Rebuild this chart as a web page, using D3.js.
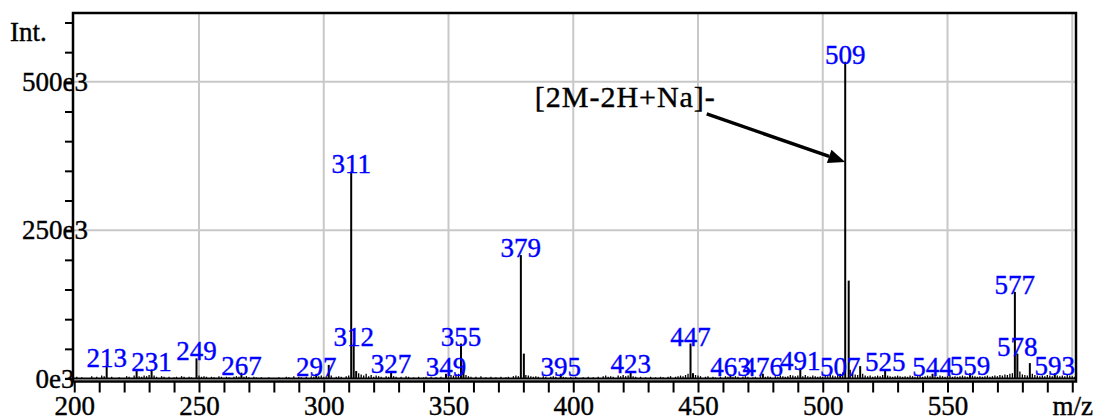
<!DOCTYPE html>
<html>
<head>
<meta charset="utf-8">
<script src="https://cdn.jsdelivr.net/npm/d3@7"></script>
<style>
  body { margin: 0; background: #fff; }
  svg { display: block; }
</style>
</head>
<body>
<div id="chart"></div>
<script>
// labelled peaks (m/z, intensity in e3)
const labelMz  = [213, 231, 249, 267, 297, 311, 312, 327, 349, 355, 379, 395, 423, 447, 463, 476, 491, 507, 509, 525, 544, 559, 577, 578, 593];
const labelInt = [22, 15.5, 34, 10, 8, 349, 59, 12.5, 8, 59, 208, 8, 12, 59, 7, 8, 18, 8, 534, 16, 8, 9, 146, 42, 9];

// other visible peaks without a label
const otherMz  = [225, 302, 313, 356, 380.2, 448, 510.4, 515, 583];
const otherInt = [12.6, 23, 12.6, 23, 42, 9, 165, 21, 26];

// baseline noise
const noiseMz = [201, 203, 207, 209, 211, 212, 215, 218, 221, 222, 224, 226, 227, 228, 229, 230, 232, 233, 235, 236, 238, 240, 241, 243, 244, 246, 247,
  250, 251, 252, 253, 255, 256, 258, 259, 261, 262, 264, 265, 266, 268, 269, 270, 272, 273, 275, 278, 282, 285, 286, 288, 290, 291, 293, 295, 296, 298, 299,
  300, 301, 303, 305, 306, 307, 309, 310, 314, 315, 316, 317, 318, 319, 320, 321, 322, 323, 325, 326, 328, 329, 331, 333, 334, 336, 338, 340, 341, 343, 345, 347,
  350, 351, 352, 353, 354, 357, 358, 359, 361, 363, 365, 367, 369, 371, 373, 374, 376, 377, 378, 381, 382, 383, 384, 385, 386, 388, 389, 391, 392, 393, 396, 397, 399,
  401, 404, 406, 408, 410, 412, 413, 414, 415, 416, 418, 419, 420, 421, 422, 424, 425, 427, 429, 431, 433, 435, 436, 438, 439, 441, 442, 443, 444, 445, 446,
  449, 450, 451, 453, 454, 456, 457, 459, 461, 462, 464, 465, 466, 468, 469, 470, 472, 473, 475, 477, 478, 479, 481, 482, 483, 484, 485, 486, 487, 488, 489, 490,
  492, 493, 494, 495, 496, 497, 498, 499, 500, 501, 502, 503, 504, 505, 506, 508, 511, 512, 513, 514, 516, 517, 518, 519, 520, 521, 522, 523, 524,
  526, 527, 528, 529, 530, 531, 532, 533, 534, 535, 536, 537, 538, 539, 540, 541, 542, 543, 545, 546, 547, 548, 549, 550, 551, 552, 553, 554, 555, 556, 557, 558,
  560, 561, 562, 563, 564, 565, 566, 567, 568, 569, 570, 571, 572, 573, 574, 575, 576, 579, 580, 581, 582, 584, 585, 586, 587, 588, 589, 590, 591, 592,
  594, 595, 596, 597, 598, 599, 600, 601];
const noiseInt = [3, 2, 4, 3, 5, 4, 3, 2, 4, 3, 5, 4, 3, 5, 4, 6, 5, 3, 4, 3, 3, 2, 3, 4, 3, 3, 2,
  5, 3, 4, 3, 3, 2, 4, 3, 3, 2, 3, 4, 3, 3, 4, 2, 3, 2, 2, 2, 2, 3, 2, 4, 3, 2, 3, 4, 3, 4, 5,
  3, 4, 5, 3, 4, 3, 4, 5, 9, 7, 5, 8, 4, 6, 3, 5, 4, 3, 4, 3, 4, 3, 3, 4, 3, 2, 3, 2, 3, 3, 2, 3,
  4, 6, 5, 7, 8, 6, 4, 3, 3, 4, 2, 3, 2, 3, 2, 3, 4, 5, 4, 6, 5, 4, 3, 4, 3, 4, 3, 3, 4, 3, 3, 2, 3,
  3, 2, 3, 2, 3, 4, 5, 3, 4, 3, 5, 4, 6, 4, 5, 4, 3, 3, 2, 3, 2, 3, 2, 3, 4, 3, 4, 5, 4, 6, 8,
  6, 5, 4, 3, 4, 3, 2, 3, 4, 3, 3, 4, 3, 3, 4, 3, 2, 3, 4, 3, 4, 3, 4, 3, 5, 4, 3, 4, 6, 5, 4, 5,
  4, 6, 4, 3, 5, 4, 3, 4, 3, 5, 4, 6, 5, 4, 7, 10, 15, 9, 7, 6, 8, 5, 4, 5, 3, 4, 5, 4, 6,
  5, 4, 3, 4, 5, 4, 3, 4, 3, 5, 4, 3, 4, 5, 3, 4, 5, 4, 4, 3, 5, 4, 3, 4, 5, 3, 4, 3, 4, 5, 4, 3,
  5, 4, 3, 4, 3, 4, 5, 3, 4, 5, 4, 6, 5, 7, 6, 8, 9, 12, 7, 6, 5, 8, 6, 5, 4, 5, 4, 6, 5, 4,
  5, 4, 5, 4, 6, 5, 4, 3];

// x tick values / y tick values
const xTicks = d3.range(200, 601, 10);
const yTicks = d3.range(0, 600001, 50000);

// annotation: [2M-2H+Na]- pointing at 509
const annText = '[2M-2H+Na]-';
const annTextAt = [384.6, 458000];
const annFrom = [453.5, 446000];
const annTo = [509, 365000];

const width = 1096, height = 419;
const mLeft = 73, mRight = 1076, mTop = 13, mBottom = 381.5;
const font = '"Liberation Serif", "Times New Roman", Times, serif';

const x = d3.scaleLinear([199.5, 601.5], [mLeft, mRight]);
const y = d3.scaleLinear([-5000, 616000], [mBottom, mTop]);

const svg = d3.select('#chart').append('svg')
  .attr('width', width)
  .attr('height', height)
  .style('font-family', font);

// grid
svg.append('g')
  .attr('stroke', '#c8c8c8')
  .attr('stroke-width', 2)
  .selectAll('line')
  .data(d3.range(250, 601, 50))
  .join('line')
    .attr('x1', d => x(d)).attr('x2', d => x(d))
    .attr('y1', mTop).attr('y2', mBottom);

svg.append('g')
  .attr('stroke', '#c8c8c8')
  .attr('stroke-width', 2)
  .selectAll('line')
  .data([250000, 500000])
  .join('line')
    .attr('x1', mLeft).attr('x2', mRight)
    .attr('y1', d => y(d)).attr('y2', d => y(d));

// noise sticks
const noise = noiseMz.map((m, i) => ({mz: m, v: noiseInt[i] * 1000}));
svg.append('g')
  .attr('stroke', '#000')
  .attr('stroke-width', 1.3)
  .selectAll('line')
  .data(noise)
  .join('line')
    .attr('x1', d => x(d.mz)).attr('x2', d => x(d.mz))
    .attr('y1', y(0)).attr('y2', d => y(d.v));

// main peaks
const peaks = labelMz.map((m, i) => ({mz: m, v: labelInt[i] * 1000}))
  .concat(otherMz.map((m, i) => ({mz: m, v: otherInt[i] * 1000})));

svg.append('g')
  .attr('stroke', '#000')
  .attr('stroke-width', 2)
  .selectAll('line')
  .data(peaks)
  .join('line')
    .attr('x1', d => x(d.mz)).attr('x2', d => x(d.mz))
    .attr('y1', y(0)).attr('y2', d => y(d.v));

// zero line
svg.append('line')
  .attr('x1', mLeft).attr('x2', mRight)
  .attr('y1', y(0)).attr('y2', y(0))
  .attr('stroke', '#000')
  .attr('stroke-width', 2);

// frame
svg.append('rect')
  .attr('x', mLeft).attr('y', mTop)
  .attr('width', mRight - mLeft).attr('height', mBottom - mTop)
  .attr('fill', 'none')
  .attr('stroke', '#000')
  .attr('stroke-width', 2.5);

// axes
const xAxis = svg.append('g')
  .attr('transform', `translate(0,${mBottom})`)
  .call(d3.axisBottom(x)
    .tickValues(xTicks)
    .tickSize(11)
    .tickFormat(d => d === 600 ? 'm/z' : (d % 50 === 0 ? d : '')));
xAxis.select('.domain').remove();
xAxis.selectAll('line').attr('stroke-width', 2);
xAxis.selectAll('text')
  .attr('y', 14)
  .style('font-family', font)
  .style('font-size', '27px')
  .attr('fill', '#000')
  .attr('stroke', '#000')
  .attr('stroke-width', 0.4);

const yAxis = svg.append('g')
  .attr('transform', `translate(${mLeft},0)`)
  .call(d3.axisLeft(y)
    .tickValues(yTicks)
    .tickSize(8)
    .tickFormat(d => d % 250000 === 0 ? `${d / 1000}e3` : ''));
yAxis.select('.domain').remove();
yAxis.selectAll('line').attr('stroke-width', 2);
yAxis.selectAll('text')
  .attr('x', -18)
  .attr('text-anchor', 'middle')
  .style('font-family', font)
  .style('font-size', '27px')
  .attr('fill', '#000')
  .attr('stroke', '#000')
  .attr('stroke-width', 0.4);

svg.append('text')
  .attr('x', 10).attr('y', 41)
  .style('font-size', '27px')
  .attr('stroke', '#000')
  .attr('stroke-width', 0.4)
  .text('Int.');

// peak labels
svg.append('g')
  .attr('fill', '#0000ff')
  .attr('stroke', '#0000ff')
  .attr('stroke-width', 0.4)
  .attr('text-anchor', 'middle')
  .style('font-size', '27px')
  .selectAll('text')
  .data(labelMz.map((m, i) => ({mz: m, v: labelInt[i] * 1000})))
  .join('text')
    .attr('x', d => x(d.mz))
    .attr('y', d => y(d.v) + 2)
    .text(d => d.mz);

// annotation
svg.append('text')
  .attr('x', x(annTextAt[0]))
  .attr('y', y(annTextAt[1]))
  .style('font-size', '30px')
  .attr('stroke', '#000')
  .attr('stroke-width', 0.4)
  .attr('textLength', 180)
  .text(annText);

const ax1 = x(annFrom[0]), ay1 = y(annFrom[1]);
const ax2 = x(annTo[0]), ay2 = y(annTo[1]);
const ang = Math.atan2(ay2 - ay1, ax2 - ax1);
const headLen = 17, headW = 7;
const bx = ax2 - headLen * Math.cos(ang), by = ay2 - headLen * Math.sin(ang);

svg.append('line')
  .attr('x1', ax1).attr('y1', ay1)
  .attr('x2', bx).attr('y2', by)
  .attr('stroke', '#000')
  .attr('stroke-width', 3.5);

svg.append('path')
  .attr('d', `M${ax2},${ay2}L${bx + headW * Math.sin(ang)},${by - headW * Math.cos(ang)}L${bx - headW * Math.sin(ang)},${by + headW * Math.cos(ang)}Z`)
  .attr('fill', '#000');
</script>
</body>
</html>
